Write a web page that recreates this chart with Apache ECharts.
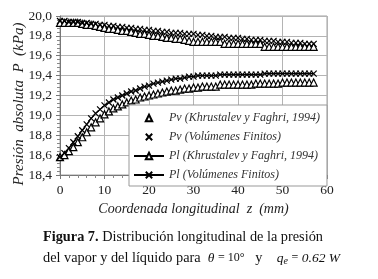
<!DOCTYPE html>
<html>
<head>
<meta charset="utf-8">
<script src="https://cdn.jsdelivr.net/npm/echarts@6/dist/echarts.min.js"></script>
<style>
  html, body { margin: 0; padding: 0; background: #fff; }
  #chart { width: 378px; height: 279px; }
</style>
</head>
<body>
<div id="chart"></div>
<script>
// coordenada longitudinal z (mm), un punto por mm
const zPos = [0,1,2,3,4,5,6,7,8,9,10,11,12,13,14,15,16,17,18,19,20,21,22,23,24,25,26,27,28,29,
  30,31,32,33,34,35,36,37,38,39,40,41,42,43,44,45,46,47,48,49,50,51,52,53,54,55,56,57]

const pvKhrustalev = [19.93,19.93,19.93,19.93,19.93,19.92,19.91,19.91,19.90,19.89,19.88,19.87,19.87,19.86,19.85,
  19.85,19.84,19.83,19.82,19.82,19.81,19.80,19.80,19.79,19.78,19.78,19.77,19.77,19.76,19.75,
  19.74,19.74,19.74,19.74,19.74,19.74,19.74,19.72,19.72,19.72,19.72,19.72,19.72,19.72,19.72,
  19.72,19.69,19.69,19.69,19.69,19.69,19.69,19.69,19.69,19.69,19.69,19.69,19.69]

const pvVolumenes = [19.95,19.95,19.94,19.94,19.94,19.93,19.93,19.92,19.92,19.91,19.91,19.90,19.90,19.89,19.89,
  19.88,19.88,19.87,19.87,19.86,19.86,19.85,19.85,19.84,19.84,19.83,19.83,19.83,19.82,19.82,
  19.82,19.81,19.81,19.80,19.80,19.79,19.79,19.79,19.78,19.78,19.78,19.77,19.77,19.76,19.76,
  19.76,19.75,19.75,19.75,19.74,19.74,19.74,19.73,19.73,19.73,19.72,19.72,19.72]

const plKhrustalev = [18.58,18.60,18.64,18.68,18.73,18.78,18.83,18.88,18.93,18.97,19.01,19.04,19.07,19.09,19.11,
  19.13,19.15,19.16,19.18,19.19,19.20,19.21,19.22,19.23,19.24,19.25,19.25,19.26,19.27,19.27,
  19.28,19.28,19.29,19.29,19.29,19.29,19.31,19.31,19.31,19.31,19.31,19.31,19.31,19.31,19.32,
  19.32,19.32,19.32,19.32,19.32,19.33,19.33,19.33,19.33,19.33,19.33,19.33,19.33]

const plVolumenes = [18.58,18.62,18.67,18.73,18.79,18.85,18.91,18.97,19.02,19.06,19.10,19.13,19.16,19.18,19.20,
  19.22,19.24,19.25,19.27,19.29,19.30,19.32,19.33,19.34,19.35,19.36,19.37,19.37,19.38,19.39,
  19.39,19.40,19.40,19.40,19.40,19.40,19.41,19.41,19.41,19.41,19.41,19.41,19.41,19.41,19.41,
  19.41,19.42,19.42,19.42,19.42,19.42,19.42,19.42,19.42,19.42,19.42,19.42,19.42]

const seriesNames = [
  'Pv (Khrustalev y Faghri, 1994)',
  'Pv (Volúmenes Finitos)',
  'Pl (Khrustalev y Faghri, 1994)',
  'Pl (Volúmenes Finitos)'
]

const serif = 'Liberation Serif'
const cross = 'path://M0,0L10,10M10,0L0,10'

function pairs (vals) {
  return zPos.map((z, i) => [z, vals[i]])
}

const chart = echarts.init(document.getElementById('chart'))

const option = {
  animation: false,
  grid: {
    left: 60,
    right: 51,
    top: 16,
    bottom: 104,
    outerBoundsMode: 'none',
    containLabel: false,
    show: true,
    borderColor: '#a0a0a0',
    borderWidth: 1
  },
  legend: {
    orient: 'vertical',
    left: 129,
    top: 105,
    padding: [7, 7, 5, 4],
    itemWidth: 30,
    itemHeight: 8,
    itemGap: 7,
    backgroundColor: '#fff',
    borderColor: '#999',
    borderWidth: 1,
    textStyle: {
      fontFamily: serif,
      fontStyle: 'italic',
      fontSize: 12,
      color: '#333'
    },
    data: seriesNames
  },
  xAxis: {
    type: 'value',
    min: 0,
    max: 60,
    interval: 10,
    name: 'Coordenada longitudinal  z  (mm)',
    nameLocation: 'middle',
    nameGap: 20,
    nameTextStyle: { fontFamily: serif, fontStyle: 'italic', fontSize: 14, color: '#222' },
    axisLine: { lineStyle: { color: '#777' } },
    axisTick: { length: 4, lineStyle: { color: '#777' } },
    minorTick: { show: true, splitNumber: 5, length: 3, lineStyle: { color: '#888' } },
    axisLabel: { fontFamily: serif, fontSize: 13.5, color: '#222', margin: 8 },
    splitLine: { lineStyle: { color: '#b4b4b4' } }
  },
  yAxis: {
    type: 'value',
    min: 18.4,
    max: 20.0,
    interval: 0.2,
    axisLine: { show: true, lineStyle: { color: '#777' } },
    axisTick: { show: true, length: 4, lineStyle: { color: '#777' } },
    minorTick: { show: true, splitNumber: 5, length: 3, lineStyle: { color: '#888' } },
    axisLabel: {
      fontFamily: serif,
      fontSize: 13.5,
      color: '#222',
      margin: 8,
      formatter: v => v.toFixed(1).replace('.', ',')
    },
    splitLine: { lineStyle: { color: '#b4b4b4' } }
  },
  series: [
    {
      name: seriesNames[0],
      type: 'line',
      symbol: 'triangle',
      symbolSize: 7,
      showAllSymbol: true,
      lineStyle: { width: 0, opacity: 0 },
      itemStyle: { color: '#fff', borderColor: '#000', borderWidth: 1.2 },
      data: pairs(pvKhrustalev)
    },
    {
      name: seriesNames[1],
      type: 'line',
      symbol: cross,
      symbolSize: 6,
      showAllSymbol: true,
      lineStyle: { width: 0, opacity: 0 },
      itemStyle: { color: '#000', borderColor: '#000', borderWidth: 1.2 },
      data: pairs(pvVolumenes)
    },
    {
      name: seriesNames[2],
      type: 'line',
      symbol: 'triangle',
      symbolSize: 7,
      showAllSymbol: true,
      lineStyle: { color: '#000', width: 1.2 },
      itemStyle: { color: '#fff', borderColor: '#000', borderWidth: 1.2 },
      data: pairs(plKhrustalev)
    },
    {
      name: seriesNames[3],
      type: 'line',
      symbol: cross,
      symbolSize: 6,
      showAllSymbol: true,
      lineStyle: { color: '#000', width: 1.2 },
      itemStyle: { color: '#000', borderColor: '#000', borderWidth: 1.2 },
      data: pairs(plVolumenes)
    }
  ],
  graphic: [
    {
      // nombre del eje y
      type: 'text',
      x: 19,
      y: 104,
      rotation: Math.PI / 2,
      style: {
        text: 'Presión  absoluta  P  (kPa)',
        fontFamily: serif,
        fontStyle: 'italic',
        fontSize: 15,
        fill: '#222',
        align: 'center',
        verticalAlign: 'middle'
      }
    },
    {
      type: 'text',
      left: 43,
      top: 230,
      style: {
        text: '{b|Figura 7.} Distribución longitudinal de la presión',
        fontFamily: serif,
        fontSize: 14.3,
        fill: '#111',
        rich: {
          b: { fontWeight: 'bold', fontFamily: serif, fontSize: 14.3 }
        }
      }
    },
    {
      type: 'text',
      left: 43,
      top: 251,
      style: {
        text: 'del vapor y del líquido para  {i|θ} {s|= 10°}   y    {i|q}{sub|e} {s|=} {i|0.62 W}',
        fontFamily: serif,
        fontSize: 14.3,
        fill: '#111',
        rich: {
          i: { fontStyle: 'italic', fontFamily: serif, fontSize: 13.5 },
          s: { fontFamily: serif, fontSize: 12 },
          sub: { fontStyle: 'italic', fontFamily: serif, fontSize: 10, padding: [6, 0, 0, 0] }
        }
      }
    }
  ]
}

chart.setOption(option)
</script>
</body>
</html>
